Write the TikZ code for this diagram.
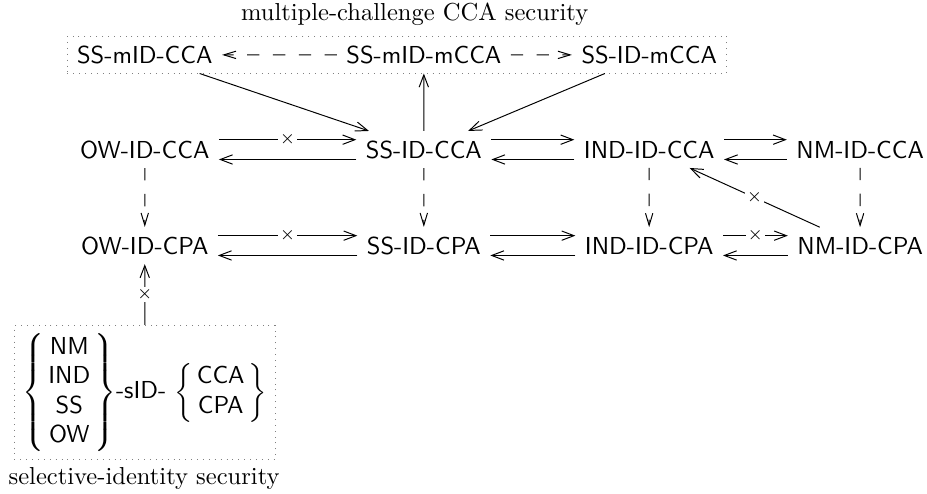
\documentclass[tikz,border=0pt]{standalone}
\usepackage{amsmath,amssymb}
\usetikzlibrary{arrows.meta,fit}

\tikzset{
  scheme/.style={font=\sffamily, inner sep=3.7pt},
  imp/.style={-{Straight Barb[length=5pt,width=3.8pt]}},
  dashimp/.style={dash pattern=on 5pt off 5.5pt, -{Straight Barb[length=5pt,width=3pt]}},
  sep/.style={fill=white, inner sep=0.6pt, font=\scriptsize},
  box/.style={draw=gray, dotted},
}

\begin{document}
\begin{tikzpicture}[scale=.938]
\useasboundingbox (0,0) rectangle (14.15,7.527);

% single-challenge schemes
\foreach \n/\x in {OW/2.21, SS/6.47, IND/9.91, NM/13.13}{
	\node[scheme] (\n-cca) at (\x,5.244) {\n-ID-CCA};
	\node[scheme] (\n-cpa) at (\x,3.779) {\n-ID-CPA};
	\draw[dashimp] (\n-cca) -- (\n-cpa);
	}

% multiple-challenge CCA
\node[scheme] (ssmidcca) at (2.21,6.69) {SS-mID-CCA};
\node[scheme] (ssmidmcca) at (6.47,6.69) {SS-mID-mCCA};
\node[scheme] (ssidmcca) at (9.91,6.69) {SS-ID-mCCA};
\node[box, fit=(ssmidcca)(ssmidmcca)(ssidmcca), inner sep=0pt] (multi) {};
\node (multicap) at (6.33,7.31) {multiple-challenge CCA security};

\draw[dashimp] (ssmidmcca) -- (ssmidcca);
\draw[dashimp] (ssmidmcca) -- (ssidmcca);
\draw[imp] (ssmidcca) -- (SS-cca);
\draw[imp] (ssidmcca) -- (SS-cca);
\draw[imp] (SS-cca) -- (ssmidmcca);

% CCA row
\draw[imp] ([yshift=4.3pt]OW-cca.east) -- node[sep]{$\times$} ([yshift=4.3pt]SS-cca.west);
\draw[imp] ([yshift=-4.3pt]SS-cca.west) -- ([yshift=-4.3pt]OW-cca.east);
\draw[imp] ([yshift=4.3pt]SS-cca.east) -- ([yshift=4.3pt]IND-cca.west);
\draw[imp] ([yshift=-4.3pt]IND-cca.west) -- ([yshift=-4.3pt]SS-cca.east);
\draw[imp] ([yshift=4.3pt]IND-cca.east) -- ([yshift=4.3pt]NM-cca.west);
\draw[imp] ([yshift=-4.3pt]NM-cca.west) -- ([yshift=-4.3pt]IND-cca.east);

% CPA row
\draw[imp] ([yshift=4.3pt]OW-cpa.east) -- node[sep]{$\times$} ([yshift=4.3pt]SS-cpa.west);
\draw[imp] ([yshift=-4.3pt]SS-cpa.west) -- ([yshift=-4.3pt]OW-cpa.east);
\draw[imp] ([yshift=4.3pt]SS-cpa.east) -- ([yshift=4.3pt]IND-cpa.west);
\draw[imp] ([yshift=-4.3pt]IND-cpa.west) -- ([yshift=-4.3pt]SS-cpa.east);
\draw[imp] ([yshift=4.3pt]IND-cpa.east) -- node[sep]{$\times$} ([yshift=4.3pt]NM-cpa.west);
\draw[imp] ([yshift=-4.3pt]NM-cpa.west) -- ([yshift=-4.3pt]IND-cpa.east);

\draw[imp] (NM-cpa) -- node[sep]{$\times$} (IND-cca);

% selective-identity
\node[box, minimum width=3.72cm, minimum height=1.9cm, font=\sffamily] (selbox) at (2.21,1.535)
	{\setlength\arraycolsep{1.6pt}%
	 $\left\{\begin{array}{c}\text{NM}\\ \text{IND}\\ \text{SS}\\ \text{OW}\end{array}\right\}$-sID-
	 $\left\{\begin{array}{c}\text{CCA}\\ \text{CPA}\end{array}\right\}$};
\node (selcap) at (2.20,0.23) {selective-identity security};
\draw[imp] (selbox) -- node[sep]{$\times$} (OW-cpa);
\end{tikzpicture}
\end{document}
